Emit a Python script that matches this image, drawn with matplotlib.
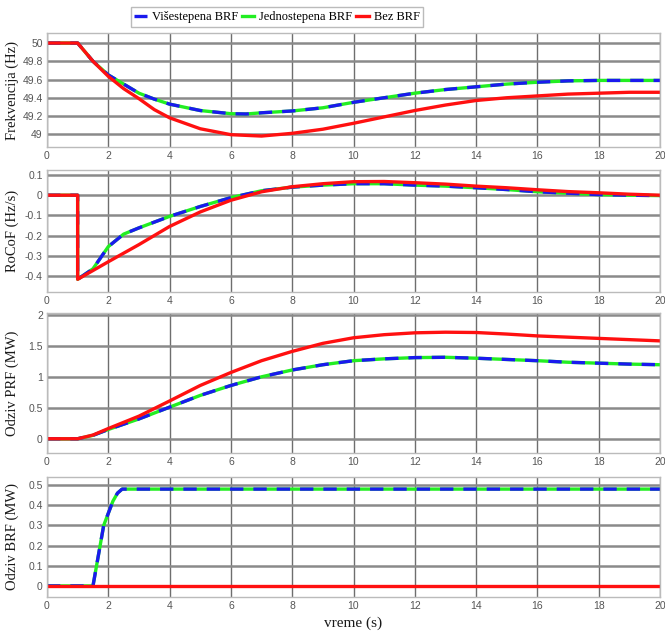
import matplotlib
matplotlib.use("Agg")
import matplotlib.pyplot as plt

# ---- data ----
t_red_f = [0, 1, 1.5, 2, 2.5, 3, 3.5, 4, 5, 6, 7, 8, 9, 10, 11, 12, 13, 14, 15, 16, 17, 18, 19, 20]
f_red = [50, 50, 49.80, 49.635, 49.50, 49.39, 49.27, 49.18, 49.06, 48.995, 48.98, 49.01, 49.055,
         49.12, 49.19, 49.26, 49.32, 49.37, 49.40, 49.42, 49.44, 49.45, 49.46, 49.46]
t_brf_f = [0, 1, 1.5, 2, 2.5, 3, 3.5, 4, 5, 6, 6.5, 7, 8, 9, 10, 11, 12, 13, 14, 15, 16, 17, 18, 19, 20]
f_brf = [50, 50, 49.80, 49.65, 49.55, 49.45, 49.385, 49.33, 49.26, 49.225, 49.222, 49.235, 49.255,
         49.29, 49.35, 49.40, 49.45, 49.49, 49.52, 49.55, 49.57, 49.585, 49.59, 49.59, 49.59]

t_red_r = [0, 1, 1, 2, 3, 4, 5, 6, 7, 8, 9, 10, 11, 12, 13, 14, 15, 16, 17, 18, 19, 20]
r_red = [0, 0, -0.417, -0.33, -0.245, -0.155, -0.083, -0.025, 0.017, 0.042, 0.057, 0.067, 0.068,
         0.062, 0.055, 0.045, 0.037, 0.027, 0.018, 0.012, 0.005, 0.0]
t_brf_r = [0, 1, 1, 1.5, 2, 2.5, 3, 4, 5, 6, 7, 8, 9, 10, 11, 12, 13, 14, 15, 16, 17, 18, 19, 20]
r_brf = [0, 0, -0.417, -0.365, -0.255, -0.193, -0.162, -0.105, -0.056, -0.012, 0.022, 0.04, 0.05,
         0.057, 0.057, 0.05, 0.045, 0.037, 0.028, 0.017, 0.01, 0.003, 0.0, -0.002]

t_prf = [0, 1, 1.5, 2, 3, 4, 5, 6, 7, 8, 9, 10, 11, 12, 13, 14, 15, 16, 17, 18, 19, 20]
p_red = [0, 0, 0.06, 0.165, 0.365, 0.61, 0.86, 1.07, 1.26, 1.41, 1.54, 1.63, 1.68, 1.71, 1.72,
         1.715, 1.69, 1.66, 1.64, 1.62, 1.60, 1.58]
p_brf = [0, 0, 0.055, 0.15, 0.32, 0.51, 0.70, 0.86, 1.0, 1.11, 1.195, 1.26, 1.29, 1.31, 1.315,
         1.30, 1.28, 1.26, 1.235, 1.22, 1.205, 1.195]

t_b = [0, 1.5, 1.85, 2.0, 2.15, 2.3, 2.45, 20]
b_brf = [0, 0, 0.30, 0.36, 0.42, 0.46, 0.48, 0.48]
t_b_red = [0, 20]
b_red = [0, 0]

labels = ["Višestepena BRF", "Jednostepena BRF", "Bez BRF"]
ylabels = ["Frekvencija (Hz)", "RoCoF (Hz/s)", "Odziv PRF (MW)", "Odziv BRF (MW)"]
yticks = [[49, 49.2, 49.4, 49.6, 49.8, 50],
          [-0.4, -0.3, -0.2, -0.1, 0, 0.1],
          [0, 0.5, 1, 1.5, 2],
          [0, 0.1, 0.2, 0.3, 0.4, 0.5]]
yticklabels = [["49", "49.2", "49.4", "49.6", "49.8", "50"],
               ["-0.4", "-0.3", "-0.2", "-0.1", "0", "0.1"],
               ["0", "0.5", "1", "1.5", "2"],
               ["0", "0.1", "0.2", "0.3", "0.4", "0.5"]]
ylims = [(48.86, 50.11), (-0.48, 0.125), (-0.23, 2.03), (-0.055, 0.54)]
xticks = list(range(0, 21, 2))

fig = plt.figure(figsize=(6.65, 6.35), dpi=100)
W, H = 665, 635
boxes = [(33, 147), (170, 292), (313, 453), (477, 597)]
left, right = 47, 660

series = [
    (t_brf_f, f_brf, t_red_f, f_red),
    (t_brf_r, r_brf, t_red_r, r_red),
    (t_prf, p_brf, t_prf, p_red),
    (t_b, b_brf, t_b_red, b_red),
]

serif = ["Liberation Serif", "DejaVu Serif"]
sans = ["Liberation Sans", "DejaVu Sans"]
axes = []
for i, ((top, bot), (tb, yb, tr, yr)) in enumerate(zip(boxes, series)):
    ax = fig.add_axes([left / W, 1 - bot / H, (right - left) / W, (bot - top) / H])
    axes.append(ax)
    ax.set_xlim(0, 20)
    ax.set_ylim(*ylims[i])
    ax.set_xticks(xticks)
    ax.set_yticks(yticks[i])
    ax.set_yticklabels(yticklabels[i])
    ax.tick_params(length=0, labelsize=7.5, colors="#555555", pad=3)
    for lab in ax.get_xticklabels() + ax.get_yticklabels():
        lab.set_family(sans)
    for s in ax.spines.values():
        s.set_color("#bbbbbb")
        s.set_linewidth(1.0)
    ax.grid(True, axis="x", color="#6e6e6e", lw=1.0)
    ax.grid(True, axis="y", color="#8a8a8a", lw=1.8)
    ax.set_axisbelow(True)
    l2, = ax.plot(tb, yb, color="#22ee22", lw=2.4)
    l1, = ax.plot(tb, yb, color="#1a1aee", lw=2.4, dashes=(4, 3))
    l3, = ax.plot(tr, yr, color="#ff1010", lw=2.4)
    ax.set_ylabel(ylabels[i], family=serif, fontsize=10.5, color="#1a1a1a")
    ax.yaxis.set_label_coords(-0.045, 0.5)

axes[3].set_xlabel("vreme (s)", family=serif, fontsize=11, color="#1a1a1a", labelpad=4)

fig.legend([l1, l2, l3], labels, loc="center", bbox_to_anchor=(277 / W, 1 - 17 / H),
           ncol=3, prop={"family": serif, "size": 9}, handlelength=1.0,
           handletextpad=0.4, columnspacing=0.3, borderpad=0.3, frameon=True,
           fancybox=False, edgecolor="#aaaaaa")

fig.savefig("out.png", dpi=100)
